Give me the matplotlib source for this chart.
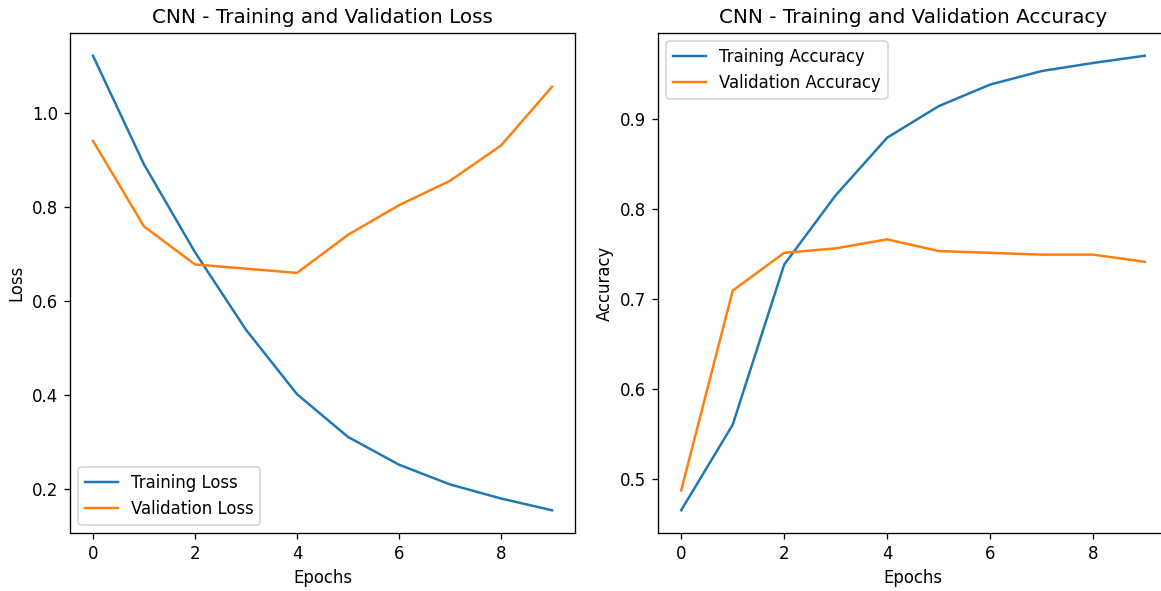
import numpy as np
import matplotlib.pyplot as plt

# values
epochs = np.arange(10)
train_loss = [1.122, 0.891, 0.704, 0.539, 0.402, 0.311, 0.252, 0.210, 0.180, 0.155]
val_loss = [0.941, 0.759, 0.678, 0.669, 0.660, 0.741, 0.804, 0.856, 0.931, 1.056]
train_acc = [0.465, 0.560, 0.738, 0.815, 0.879, 0.914, 0.938, 0.953, 0.962, 0.970]
val_acc = [0.487, 0.709, 0.751, 0.756, 0.766, 0.753, 0.751, 0.749, 0.749, 0.741]

W, H = 1161, 591
DPI = 119  # reference text is drawn ~1.19x the default size
fig = plt.figure(figsize=(W / DPI, H / DPI), dpi=DPI)

# axes boxes in pixels (the right one runs a little past the edge)
ax1 = fig.add_axes([70 / W, 58 / H, 505 / W, 500 / H])
ax2 = fig.add_axes([658 / W, 58 / H, 510 / W, 500 / H])

ax1.plot(epochs, train_loss, label='Training Loss')
ax1.plot(epochs, val_loss, label='Validation Loss')
ax1.set_title('CNN - Training and Validation Loss')
ax1.set_xlabel('Epochs')
ax1.set_ylabel('Loss')
ax1.legend(loc='lower left')

ax2.plot(epochs, train_acc, label='Training Accuracy')
ax2.plot(epochs, val_acc, label='Validation Accuracy')
ax2.set_title('CNN - Training and Validation Accuracy')
ax2.set_xlabel('Epochs')
ax2.set_ylabel('Accuracy')
ax2.legend(loc='upper left')

fig.savefig('out.png', dpi=DPI)
